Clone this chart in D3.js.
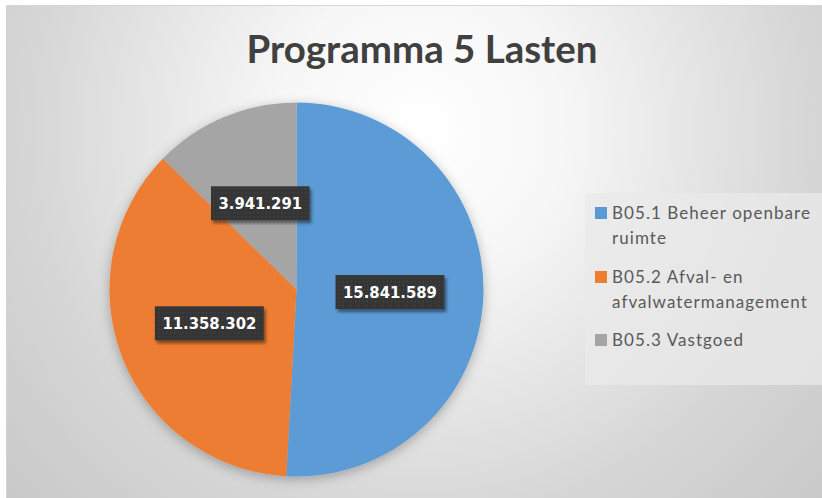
<!DOCTYPE html>
<html lang="nl">
<head>
	<meta charset="UTF-8">
	<title>Programma 5 Lasten</title>
	<script src="https://cdn.jsdelivr.net/npm/d3@7"></script>
	<style>
		html, body{
			margin: 0;
			padding: 0;
			background: #fff;
		}
		svg{
			display: block;
		}
	</style>
</head>
<body>
	<div class="pie"></div>
	<script>
		// data
		var title = 'Programma 5 Lasten';
		var categories = ['B05.1 Beheer openbare ruimte', 'B05.2 Afval- en afvalwatermanagement', 'B05.3 Vastgoed'];
		var legendLines = [['B05.1 Beheer openbare', 'ruimte'], ['B05.2 Afval- en', 'afvalwatermanagement'], ['B05.3 Vastgoed']];
		var values = [15841589, 11358302, 3941291];
		var colors = ['#5b9bd5', '#ed7d31', '#a5a5a5'];

		var width = 822;
		var height = 498;
		var center = { x: 296.5, y: 289.5 };
		var radius = 187;

		var nl = d3.formatLocale({ decimal: ',', thousands: '.', grouping: [3], currency: ['€', ''] });
		var fmt = nl.format(',d');

		var svg = d3.select('.pie')
					.append('svg')
					.attr('width', width)
					.attr('height', height);

		var defs = svg.append('defs');

		var bg = defs.append('radialGradient')
					.attr('id', 'bg')
					.attr('gradientUnits', 'userSpaceOnUse')
					.attr('cx', 420).attr('cy', 130).attr('r', 560);
		bg.append('stop').attr('offset', '0').attr('stop-color', '#ffffff');
		bg.append('stop').attr('offset', '0.25').attr('stop-color', '#f7f7f7');
		bg.append('stop').attr('offset', '0.7').attr('stop-color', '#d6d6d6');
		bg.append('stop').attr('offset', '1').attr('stop-color', '#c8c8c8');

		var pieShadow = defs.append('filter')
					.attr('id', 'pieShadow')
					.attr('x', '-20%').attr('y', '-20%')
					.attr('width', '140%').attr('height', '140%');
		pieShadow.append('feDropShadow')
					.attr('dx', 0).attr('dy', 3)
					.attr('stdDeviation', 6)
					.attr('flood-color', '#000')
					.attr('flood-opacity', 0.28);

		var boxShadow = defs.append('filter')
					.attr('id', 'boxShadow')
					.attr('x', '-20%').attr('y', '-30%')
					.attr('width', '150%').attr('height', '170%');
		boxShadow.append('feDropShadow')
					.attr('dx', 2).attr('dy', 3)
					.attr('stdDeviation', 1.8)
					.attr('flood-color', '#000')
					.attr('flood-opacity', 0.45);

		var dots = defs.append('pattern')
					.attr('id', 'dots')
					.attr('patternUnits', 'userSpaceOnUse')
					.attr('width', 4).attr('height', 4);
		dots.append('rect').attr('width', 4).attr('height', 4).attr('fill', '#363636');
		dots.append('rect').attr('x', 1).attr('y', 1).attr('width', 1).attr('height', 1).attr('fill', '#4a4a4a');

		// chart area
		svg.append('rect')
			.attr('x', 6.5).attr('y', 5.5)
			.attr('width', width)
			.attr('height', height)
			.attr('fill', 'url(#bg)')
			.attr('stroke', '#d4d4d4');

		// title, fitted to the width it has in the picture
		var titleText = svg.append('text')
			.attr('x', 422)
			.attr('y', 63)
			.attr('text-anchor', 'middle')
			.attr('font-family', 'Lato, "Open Sans", sans-serif')
			.attr('font-weight', 700)
			.attr('font-size', 36)
			.attr('fill', '#404040')
			.text(title);
		var tw = titleText.node().getComputedTextLength();
		titleText.attr('font-size', 36 * 351 / tw);

		// pie
		var pie = d3.pie().sort(null).value(function(d){ return d; });
		var arcs = pie(values);
		var arc = d3.arc().innerRadius(0).outerRadius(radius);

		var g = svg.append('g')
			.attr('transform', 'translate(' + center.x + ',' + center.y + ')');

		g.append('g')
			.attr('filter', 'url(#pieShadow)')
			.selectAll('path')
			.data(arcs)
			.enter()
			.append('path')
			.attr('d', arc)
			.attr('fill', function(d, i){ return colors[i]; });

		// data labels
		var labels = g.selectAll('.lbl')
			.data(arcs)
			.enter()
			.append('g')
			.attr('class', 'lbl')
			.attr('transform', function(d){
				var c = arc.centroid(d);
				return 'translate(' + c[0] + ',' + c[1] + ')';
			});

		labels.each(function(d){
			var sel = d3.select(this);
			var rect = sel.append('rect')
				.attr('fill', 'url(#dots)')
				.attr('filter', 'url(#boxShadow)');
			var t = sel.append('text')
				.attr('text-anchor', 'middle')
				.attr('dy', '0.36em')
				.attr('font-family', '"DejaVu Sans Condensed", "DejaVu Sans", sans-serif')
				.attr('font-weight', 700)
				.attr('font-size', 16.5)
				.attr('fill', '#fff')
				.text(fmt(d.data));
			var w = t.node().getComputedTextLength() + 15;
			rect.attr('x', -w / 2).attr('y', -17)
				.attr('width', w).attr('height', 34);
		});

		// legend
		var legend = svg.append('g')
			.attr('transform', 'translate(585,193)');
		legend.append('rect')
			.attr('width', 245)
			.attr('height', 192)
			.attr('fill', '#e9e9e9')
			.attr('opacity', 0.75);

		var rowY = [20, 84, 147];
		var items = [];
		legendLines.forEach(function(lines, i){
			var item = legend.append('g')
				.attr('transform', 'translate(10,' + rowY[i] + ')');
			item.append('rect')
				.attr('x', 0).attr('y', -6)
				.attr('width', 12).attr('height', 12)
				.attr('fill', colors[i]);
			lines.forEach(function(line, j){
				items.push(item.append('text')
					.attr('x', 17)
					.attr('y', j * 25)
					.attr('dy', '0.35em')
					.attr('font-family', 'Lato, "Open Sans", sans-serif')
					.attr('font-size', 17)
					.attr('fill', '#595959')
					.text(line));
			});
		});
		// spread letters like the picture: first line is about 198px wide
		var first = items[0].node();
		var spacing = (198 - first.getComputedTextLength()) / (legendLines[0][0].length - 1);
		items.forEach(function(t){ t.attr('letter-spacing', spacing); });
	</script>
</body>
</html>
